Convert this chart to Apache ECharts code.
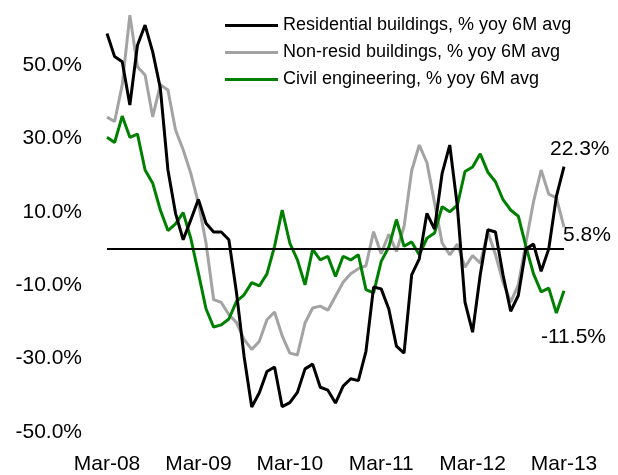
<!DOCTYPE html>
<html>
<head>
<meta charset="utf-8">
<script src="https://cdn.jsdelivr.net/npm/echarts@6/dist/echarts.min.js"></script>
<style>
html,body{margin:0;padding:0;background:#fff;}
#chart{width:618px;height:475px;}
</style>
</head>
<body>
<div id="chart"></div>
<script>
const months = [
  "Mar-08","Apr-08","May-08","Jun-08","Jul-08","Aug-08","Sep-08","Oct-08","Nov-08","Dec-08",
  "Jan-09","Feb-09","Mar-09","Apr-09","May-09","Jun-09","Jul-09","Aug-09","Sep-09","Oct-09","Nov-09","Dec-09",
  "Jan-10","Feb-10","Mar-10","Apr-10","May-10","Jun-10","Jul-10","Aug-10","Sep-10","Oct-10","Nov-10","Dec-10",
  "Jan-11","Feb-11","Mar-11","Apr-11","May-11","Jun-11","Jul-11","Aug-11","Sep-11","Oct-11","Nov-11","Dec-11",
  "Jan-12","Feb-12","Mar-12","Apr-12","May-12","Jun-12","Jul-12","Aug-12","Sep-12","Oct-12","Nov-12","Dec-12",
  "Jan-13","Feb-13","Mar-13"
];

const residential = [58.6, 52.3, 50.9, 39.1, 55.4, 60.9, 53.6, 43.7, 21.4, 9.6, 2.4, 7.8, 13.4, 6.9, 4.5, 4.5, 2.4, -12, -29.4, -43.2, -39.3, -33.5, -32.3, -43.1, -42, -39.2, -32.8, -31.5, -37.8, -38.6, -42.1, -37.5, -35.5, -36, -28, -10.5, -11, -16.5, -26.6, -28.5, -7.2, -2.8, 9.6, 5.3, 20.5, 28.2, 11.5, -14.6, -22.8, -7.2, 5.1, 4.5, -7.2, -17.1, -12.8, -0.1, 1.2, -6.2, -0.1, 14.2, 22.3];

const nonResid = [35.8, 34.6, 44.6, 63.6, 49.5, 47.3, 35.9, 44.6, 43.2, 32.3, 26.9, 20.5, 12.4, 1.5, -13.9, -14.7, -18, -20.2, -24.8, -27.5, -25.3, -19.4, -17.3, -23.8, -28.5, -29, -20.3, -16.2, -15.7, -16.8, -13, -9.2, -6.9, -5.5, -4.7, 4.6, -1.4, 3.9, -0.8, 6, 21.2, 28.2, 23.4, 12.5, 1.5, -1.7, 1.2, -5.1, -1.9, -4, 4.5, -1.6, -9.2, -14.6, -9.9, 1.5, 12.8, 21.4, 14.8, 13.8, 5.8];

const civil = [30.3, 28.9, 36.1, 30.3, 31.2, 21.4, 17.8, 10.5, 4.9, 6.7, 9.8, 2.8, -6.7, -16.4, -21.4, -20.8, -19.2, -14.4, -12.6, -9.3, -10.2, -6.9, 0.6, 10.5, 1.5, -3.1, -9.9, -0.2, -3.1, -2.1, -7.6, -2.1, -3.1, -1.7, -11.2, -12.1, -3.5, 0.4, 7.9, 0.6, 1.8, -1.7, 2.8, 4.2, 11.4, 10, 11.8, 21, 22.2, 25.8, 20.8, 18.2, 13.3, 10.5, 8.8, 0.6, -6.9, -11.8, -10.8, -17.6, -11.5];

const seriesNames = [
  "Residential buildings, % yoy 6M avg",
  "Non-resid buildings, % yoy 6M avg",
  "Civil engineering, % yoy 6M avg"
];

const FONT = "'Liberation Sans', Arial, Helvetica, sans-serif";
const chart = echarts.init(document.getElementById('chart'), null, {renderer: 'canvas'});

function pct(v){ return v.toFixed(1) + '%'; }

function endLabel(offset){
  return {
    show: true,
    distance: 0,
    offset: offset,
    formatter: function(p){ return pct(Array.isArray(p.value) ? p.value[1] : p.value); },
    color: '#000',
    fontSize: 21,
    fontFamily: FONT
  };
}

chart.setOption({
  animation: false,
  backgroundColor: '#fff',
  grid: {left: 107, right: 54, top: 10, bottom: 42, containLabel: false},
  legend: {
    orient: 'vertical',
    left: 220,
    top: 7,
    itemWidth: 53,
    itemHeight: 3,
    itemGap: 0,
    icon: 'rect',
    selectedMode: false,
    data: seriesNames,
    textStyle: {fontSize: 18, fontFamily: FONT, color: '#000', lineHeight: 27}
  },
  xAxis: {
    type: 'category',
    data: months,
    boundaryGap: false,
    axisLine: {show: false},
    axisTick: {show: false},
    splitLine: {show: false},
    axisLabel: {interval: 11, fontSize: 21, fontFamily: FONT, color: '#000', margin: 22}
  },
  yAxis: {
    type: 'value',
    min: -50,
    max: 65,
    interval: 20,
    axisLine: {show: false},
    axisTick: {show: false},
    splitLine: {show: false},
    axisLabel: {
      fontSize: 21, fontFamily: FONT, color: '#000', margin: 25,
      formatter: function(v){ return v > 55 ? '' : pct(v); }
    }
  },
  series: [
    {
      name: seriesNames[0], type: 'line', data: residential, symbol: 'none',
      color: '#000000', lineStyle: {width: 3, color: '#000000'}, z: 4,
      endLabel: endLabel([-14, -17]),
      markLine: {
        silent: true, symbol: 'none', label: {show: false},
        lineStyle: {color: '#000', width: 2, type: 'solid'},
        data: [{yAxis: 0}]
      }
    },
    {
      name: seriesNames[1], type: 'line', data: nonResid, symbol: 'none',
      color: '#a3a3a3', lineStyle: {width: 3, color: '#a3a3a3'}, z: 2,
      endLabel: endLabel([-1, 8])
    },
    {
      name: seriesNames[2], type: 'line', data: civil, symbol: 'none',
      color: '#008000', lineStyle: {width: 3, color: '#008000'}, z: 3,
      endLabel: endLabel([-23, 46])
    }
  ]
});
</script>
</body>
</html>
